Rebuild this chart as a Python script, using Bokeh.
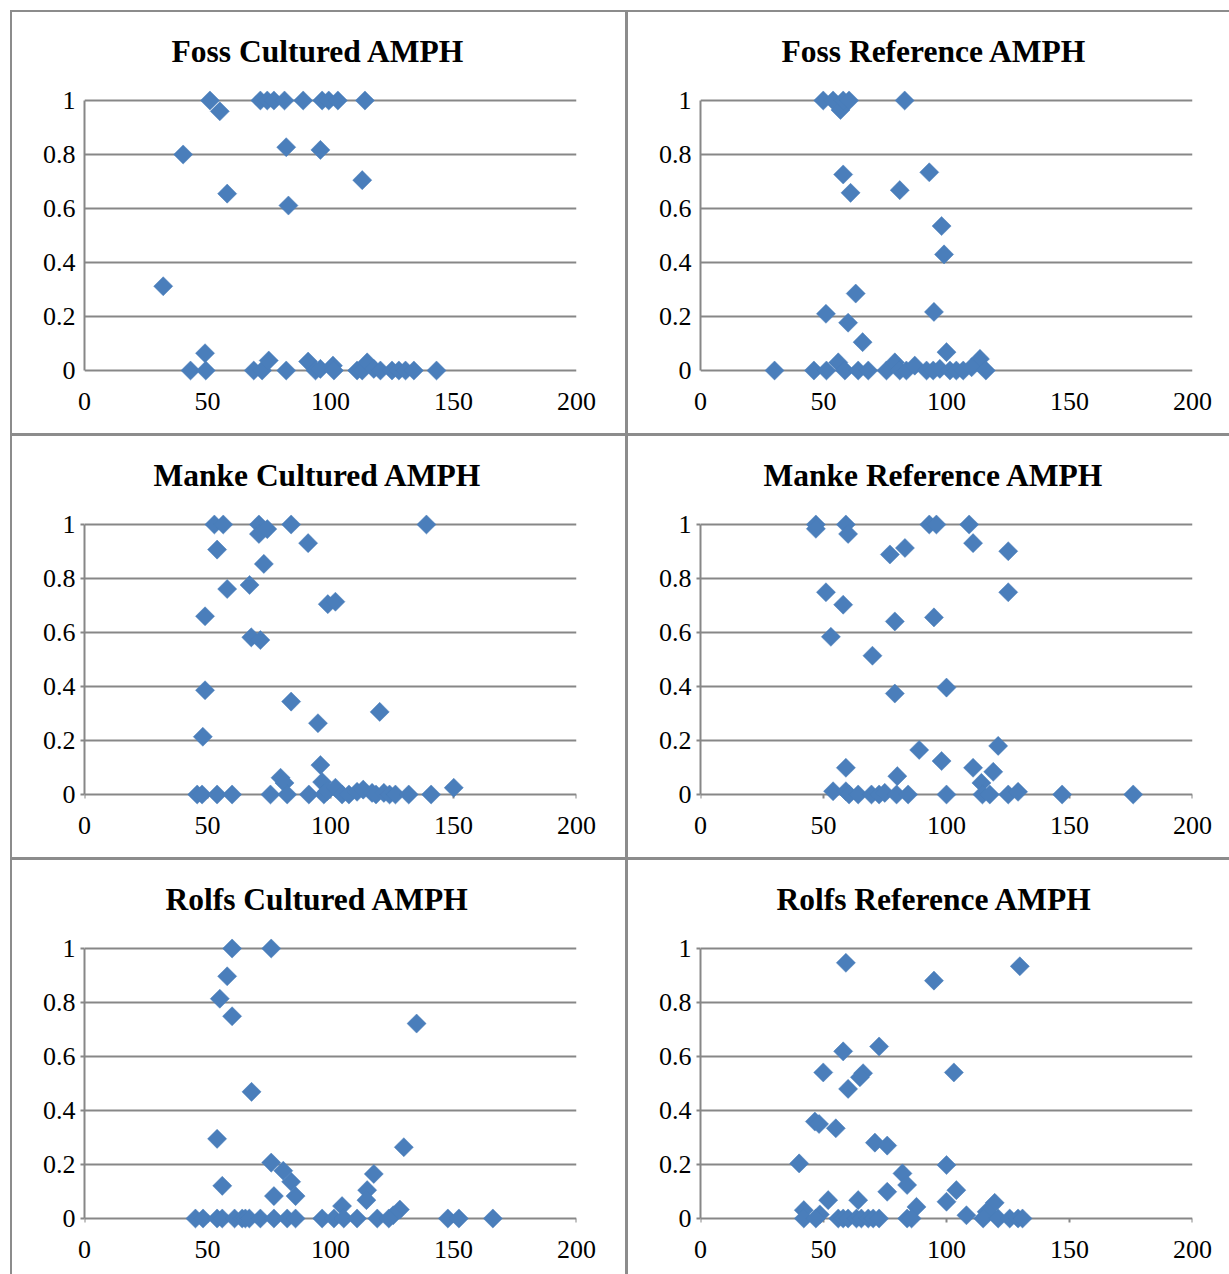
from bokeh.plotting import figure
from bokeh.layouts import row, column
from bokeh.models import Range1d, FixedTicker, NumeralTickFormatter
from bokeh.embed import file_html
from bokeh.resources import INLINE

# ---- data: AMPH fraction vs. size, per site and sample type ----
foss_cultured_x = [51, 55, 71.5, 74.3, 77, 81.3, 88.9, 96.6, 99.3, 103, 114,
                   82, 95.9, 40.1, 112.9, 58, 82.9, 32, 49,
                   43.1, 49.3, 68.8, 72.2, 74.9, 82, 90.9, 93.9, 95.9, 101, 101.4,
                   110.8, 112.9, 114.9, 117.6, 120.3, 125, 127.8, 130.5, 133.9, 143.1]
foss_cultured_y = [1, 0.96, 1, 1, 1, 1, 1, 1, 1, 1, 1,
                   0.827, 0.817, 0.80, 0.705, 0.655, 0.611, 0.312, 0.064,
                   0, 0, 0, 0, 0.037, 0, 0.033, 0, 0.006, 0.018, 0,
                   0, 0, 0.03, 0.006, 0, 0, 0, 0, 0, 0]

foss_reference_x = [49.9, 53.9, 56.9, 58, 60.4, 83, 58, 93, 61, 81, 98, 99,
                    63.1, 51, 94.9, 60, 65.9, 100, 113.6,
                    30.1, 46.1, 51.2, 56, 58.7, 64.1, 68.2, 75.6, 79, 81, 83.7,
                    87.1, 91.9, 94.6, 97.3, 101.4, 104, 106.8, 110.2, 116]
foss_reference_y = [1, 1, 0.965, 1, 1, 1, 0.726, 0.734, 0.658, 0.668, 0.535, 0.43,
                    0.285, 0.21, 0.217, 0.177, 0.105, 0.068, 0.043,
                    0, 0, 0, 0.03, 0, 0, 0, 0, 0.03, 0, 0,
                    0.018, 0, 0, 0.006, 0, 0, 0, 0.012, 0]

manke_cultured_x = [52.8, 56.4, 70.9, 70.9, 74.3, 84, 139, 90.9, 53.9, 72.9,
                    58, 67.1, 98.9, 102, 49, 67.8, 71.5, 49, 84, 94.9,
                    120, 48.1, 95.9, 79.7, 81.3, 96.6, 150.1,
                    45.8, 47.8, 53.9, 60, 75.6, 82.4, 91.2, 97.3, 98.6, 102,
                    104.7, 107.5, 110.8, 113.3, 116.9, 118.5, 121.7, 124, 126.4,
                    131.8, 140.9]
manke_cultured_y = [1, 1, 1, 0.965, 0.983, 1, 1, 0.931, 0.907, 0.854,
                    0.761, 0.776, 0.705, 0.714, 0.66, 0.582, 0.572, 0.386, 0.344, 0.264,
                    0.306, 0.214, 0.109, 0.062, 0.043, 0.046, 0.025,
                    0, 0, 0, 0, 0, 0, 0, 0, 0.012, 0.025,
                    0, 0, 0.01, 0.018, 0.006, 0, 0.006, 0, 0,
                    0, 0]

manke_reference_x = [46.9, 46.9, 59.1, 60, 93, 95.9, 109.2, 110.8, 83.1, 77,
                     125.1, 51, 125.1, 58, 79, 94.9, 53, 69.9, 79, 100,
                     88.9, 121, 98, 110.8, 59.1, 119, 80, 114.2,
                     53.9, 59.1, 60.4, 64.1, 69.5, 72.6, 74.9, 79.7, 84.4, 100,
                     114.6, 117.6, 125.1, 129.1, 147, 175.9]
manke_reference_y = [1, 0.984, 1, 0.965, 1, 1, 1, 0.931, 0.913, 0.889,
                     0.901, 0.749, 0.749, 0.703, 0.641, 0.656, 0.584, 0.514, 0.374, 0.396,
                     0.165, 0.18, 0.124, 0.099, 0.099, 0.084, 0.068, 0.043,
                     0.012, 0.012, 0, 0, 0, 0, 0.006, 0, 0, 0,
                     0, 0, 0, 0.01, 0, 0]

rolfs_cultured_x = [60, 75.9, 58, 55, 60, 135, 67.9, 53.9, 129.8, 75.9,
                    80.8, 84, 117.6, 56, 114.9, 114.6, 77, 85.8, 104.7, 128.2, 125.5,
                    45.1, 48.2, 53.9, 56, 61, 64.1, 65.4, 67, 71.5, 77, 82.4, 85.8,
                    96.6, 101.4, 105.4, 110.8, 119, 123.7, 147.7, 152.2, 166]
rolfs_cultured_y = [1, 1, 0.897, 0.814, 0.749, 0.722, 0.469, 0.295, 0.264, 0.207,
                    0.177, 0.136, 0.165, 0.121, 0.105, 0.068, 0.083, 0.083, 0.046, 0.033, 0.012,
                    0, 0, 0, 0, 0, 0, 0, 0, 0, 0, 0, 0,
                    0, 0, 0, 0, 0, 0, 0, 0, 0]

rolfs_reference_x = [59.1, 94.9, 129.8, 72.6, 58, 49.9, 103, 66.1, 64.8, 60,
                     46.5, 48.2, 55, 70.9, 75.9, 40.1, 100, 82.1, 84, 75.9,
                     104, 100, 51.9, 64.1, 87.8, 42, 48.5, 119.6, 116.3, 108.1,
                     42, 46.9, 56, 58, 60, 63.4, 65.4, 68.2, 70.2, 72.6, 84, 85.8,
                     114.9, 121, 125.7, 129.1, 130.9]
rolfs_reference_y = [0.947, 0.881, 0.934, 0.637, 0.619, 0.541, 0.541, 0.538, 0.523, 0.48,
                     0.359, 0.35, 0.334, 0.281, 0.27, 0.204, 0.198, 0.167, 0.124, 0.099,
                     0.105, 0.062, 0.068, 0.068, 0.043, 0.031, 0.015, 0.058, 0.025, 0.012,
                     0, 0, 0, 0, 0, 0, 0, 0, 0, 0, 0, 0,
                     0, 0, 0, 0, 0]

x_ticks = [0, 50, 100, 150, 200]
y_ticks = [0, 0.2, 0.4, 0.6, 0.8, 1]

GRID = "#878787"
BLUE = "#4A7EBB"
SERIF = "Liberation Serif"

UNIT_PX = 270          # pixels per 1.0 on the y axis
PAD_PX = 11            # room for diamonds sitting on 0 and 1
FRAME_H = UNIT_PX + 2 * PAD_PX
PAD = PAD_PX / UNIT_PX


def panel(title, title_left, xs, ys, width, right, height, bottom, ticks_out):
    p = figure(width=width, height=height, title=title,
               x_range=Range1d(0, 200), y_range=Range1d(-PAD, 1 + PAD),
               output_backend="svg", toolbar_location=None,
               min_border_left=72, min_border_right=right,
               min_border_top=77, min_border_bottom=bottom,
               styles={"background-color": "white"})
    p.outline_line_color = None
    p.background_fill_color = "white"
    p.border_fill_color = "white"

    # bold serif title above the plot area
    p.title.text_font = SERIF
    p.title.text_font_style = "bold"
    p.title.text_font_size = "31.5px"
    p.title.text_color = "black"
    p.title.align = "left"
    p.title.offset = title_left
    p.title.vertical_align = "middle"
    p.title.standoff = 40

    p.xgrid.visible = False
    p.ygrid.ticker = FixedTicker(ticks=y_ticks)
    p.ygrid.grid_line_color = GRID
    p.ygrid.grid_line_width = 2

    xa = p.xaxis[0]
    xa.ticker = FixedTicker(ticks=x_ticks)
    xa.axis_line_color = None
    xa.major_tick_line_color = None
    xa.minor_tick_line_color = None
    xa.major_label_standoff = 16 - PAD_PX
    xa.major_label_text_font = SERIF
    xa.major_label_text_font_size = "26px"
    xa.major_label_text_color = "black"

    ya = p.yaxis[0]
    ya.bounds = (0, 1)
    ya.ticker = FixedTicker(ticks=y_ticks)
    ya.formatter = NumeralTickFormatter(format="0.[0]")
    ya.axis_line_color = GRID
    ya.axis_line_width = 2
    ya.major_tick_line_color = GRID if ticks_out else None
    ya.major_tick_line_width = 2
    ya.major_tick_out = ticks_out
    ya.major_tick_in = 0
    ya.minor_tick_line_color = None
    ya.major_label_standoff = 9 - ticks_out
    ya.major_label_text_font = SERIF
    ya.major_label_text_font_size = "26px"
    ya.major_label_text_color = "black"

    # short x tick marks hanging below the zero line
    if ticks_out:
        drop = ticks_out / UNIT_PX
        p.segment(x0=x_ticks, y0=[0] * len(x_ticks), x1=x_ticks,
                  y1=[-drop] * len(x_ticks), line_color=GRID, line_width=2)

    p.scatter(xs, ys, marker="square", size=13.5, angle=45, angle_units="deg",
              fill_color=BLUE, line_color=BLUE, line_width=0.5)
    return p


W_LEFT, R_LEFT = 613, 49
W_RIGHT, R_RIGHT = 601, 37
H_TOP, B_TOP = 421, 421 - 77 - FRAME_H
H_MID, B_MID = 421, 421 - 77 - FRAME_H
H_BOT, B_BOT = 414, 414 - 77 - FRAME_H

p1 = panel("Foss Cultured AMPH", 87, foss_cultured_x, foss_cultured_y,
           W_LEFT, R_LEFT, H_TOP, B_TOP, 0)
p2 = panel("Foss Reference AMPH", 81, foss_reference_x, foss_reference_y,
           W_RIGHT, R_RIGHT, H_TOP, B_TOP, 0)
p3 = panel("Manke Cultured AMPH", 69, manke_cultured_x, manke_cultured_y,
           W_LEFT, R_LEFT, H_MID, B_MID, 4)
p4 = panel("Manke Reference AMPH", 63, manke_reference_x, manke_reference_y,
           W_RIGHT, R_RIGHT, H_MID, B_MID, 4)
p5 = panel("Rolfs Cultured AMPH", 81, rolfs_cultured_x, rolfs_cultured_y,
           W_LEFT, R_LEFT, H_BOT, B_BOT, 4)
p6 = panel("Rolfs Reference AMPH", 76, rolfs_reference_x, rolfs_reference_y,
           W_RIGHT, R_RIGHT, H_BOT, B_BOT, 4)

grid = column(
    row(p1, p2, spacing=3),
    row(p3, p4, spacing=3),
    row(p5, p6, spacing=3),
    spacing=3,
    margin=(10, 0, 0, 10),
    styles={"background-color": "#8c8c8c", "padding-top": "2px", "padding-left": "2px"},
)

with open("out.html", "w") as f:
    f.write(file_html(grid, INLINE))
